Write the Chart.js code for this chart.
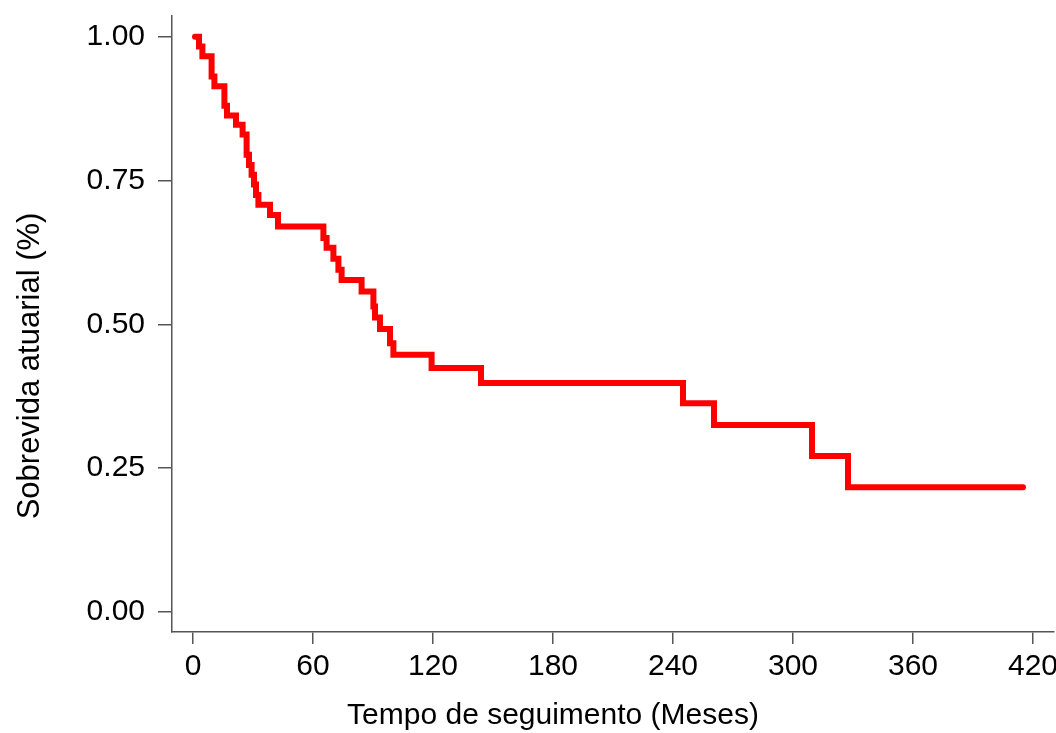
<!DOCTYPE html>
<html>
<head>
<meta charset="utf-8">
<script src="https://cdn.jsdelivr.net/npm/chart.js@4"></script>
<style>
  html, body { margin: 0; padding: 0; background: #fff; }
  #c { display: block; }
</style>
</head>
<body>
<canvas id="c" width="1056" height="733"></canvas>
<script>
// Kaplan-Meier style step data (event time in months -> survival after event)
const times = [1, 3, 4.7, 9.3, 10.7, 15.7, 17, 21.5, 24.8, 26.8, 28, 29.3, 30.5, 31.5, 32.7, 38.5, 42.5,
  65.2, 66.8, 70.2, 72.7, 74.3, 84.3, 90.2, 91, 93.5, 98.5, 100.2, 119.3, 144, 245, 260.5, 309.5, 327.5, 415];
const survival = [1.000, 0.983, 0.966, 0.931, 0.914, 0.880, 0.863, 0.847, 0.830, 0.795, 0.777, 0.760, 0.743, 0.725, 0.708, 0.690, 0.670,
  0.650, 0.633, 0.614, 0.595, 0.577, 0.557, 0.531, 0.512, 0.492, 0.467, 0.447, 0.424, 0.398, 0.363, 0.325, 0.271, 0.217, 0.217];
const xTicks = [0, 60, 120, 180, 240, 300, 360, 420];
const yTicks = [0, 0.25, 0.5, 0.75, 1.0];
const xTitle = 'Tempo de seguimento (Meses)';
const yTitle = 'Sobrevida atuarial (%)';

const FONT = '"Liberation Sans", Arial, sans-serif';
const points = times.map((t, i) => ({ x: t, y: survival[i] }));

const titlesPlugin = {
  id: 'axisTitles',
  afterDraw(chart) {
    const ctx = chart.ctx;
    ctx.save();
    ctx.fillStyle = '#000';
    ctx.font = '30px ' + FONT;
    ctx.textAlign = 'center';
    ctx.textBaseline = 'middle';
    ctx.fillText(xTitle, 553, 716);
    ctx.translate(30, 366);
    ctx.rotate(-Math.PI / 2);
    ctx.font = '31px ' + FONT;
    ctx.fillText(yTitle, 0, 0);
    ctx.restore();
  }
};

new Chart(document.getElementById('c'), {
  type: 'line',
  data: {
    datasets: [{
      data: points,
      stepped: 'before',
      borderColor: '#ff0000',
      borderWidth: 6,
      borderCapStyle: 'round',
      borderJoinStyle: 'miter',
      pointRadius: 0,
      fill: false
    }]
  },
  options: {
    responsive: false,
    animation: false,
    layout: { padding: { top: 16, right: 2, left: 0, bottom: 0 } },
    plugins: { legend: { display: false }, tooltip: { enabled: false } },
    scales: {
      x: {
        type: 'linear',
        min: -10.5,
        max: 430.5,
        afterBuildTicks: s => { s.ticks = xTicks.map(v => ({ value: v })); },
        afterFit: s => { s.height = 101; s.paddingLeft = 0; s.paddingRight = 0; },
        ticks: {
          color: '#000',
          font: { family: FONT, size: 30 },
          padding: 5,
          maxRotation: 0,
          autoSkip: false,
          callback: v => String(v)
        },
        grid: { display: true, drawOnChartArea: false, drawTicks: true, tickLength: 12, color: '#555', lineWidth: 1.5 },
        border: { display: true, color: '#555', width: 1.5 }
      },
      y: {
        type: 'linear',
        min: -0.0348,
        max: 1.036,
        afterBuildTicks: s => { s.ticks = yTicks.map(v => ({ value: v })); },
        afterFit: s => { s.width = 172; s.paddingTop = 0; s.paddingBottom = 0; },
        ticks: {
          color: '#000',
          font: { family: FONT, size: 30 },
          padding: 13,
          autoSkip: false,
          callback: v => Number(v).toFixed(2)
        },
        grid: { display: true, drawOnChartArea: false, drawTicks: true, tickLength: 14, color: '#555', lineWidth: 1.5 },
        border: { display: true, color: '#555', width: 1.5 }
      }
    }
  },
  plugins: [titlesPlugin]
});
</script>
</body>
</html>
